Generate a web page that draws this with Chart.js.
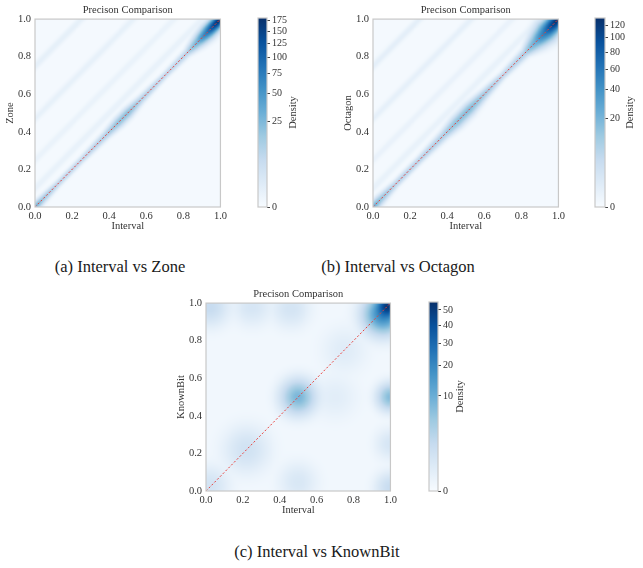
<!DOCTYPE html>
<html>
<head>
<meta charset="utf-8">
<script src="https://cdn.jsdelivr.net/npm/chart.js@4.4.0/dist/chart.umd.min.js"></script>
<style>
  body { margin: 0; background: #fff; }
  #page { position: relative; width: 643px; height: 568px; overflow: hidden; }
  canvas { position: absolute; }
  .caption {
    position: absolute;
    font-family: 'Liberation Serif', 'Times New Roman', serif;
    font-size: 16.5px;
    color: #1a1a1a;
    white-space: nowrap;
    transform: translate(-50%, -50%);
  }
</style>
</head>
<body>
<div id="page">
  <canvas id="zoneChart" width="230" height="235" style="left:0px;top:0px"></canvas>
  <canvas id="zoneBar" width="60" height="215" style="left:250px;top:0px"></canvas>
  <canvas id="octChart" width="230" height="235" style="left:338px;top:0px"></canvas>
  <canvas id="octBar" width="56" height="215" style="left:587px;top:0px"></canvas>
  <canvas id="knownChart" width="229" height="235" style="left:171px;top:284px"></canvas>
  <canvas id="knownBar" width="60" height="215" style="left:421px;top:284px"></canvas>
  <div class="caption" style="left:120px;top:267px">(a) Interval vs Zone</div>
  <div class="caption" style="left:398px;top:267px">(b) Interval vs Octagon</div>
  <div class="caption" style="left:317px;top:552px">(c) Interval vs KnownBit</div>
</div>
<script>
// axis ticks shared by all three panels
const unitTicks = [0, 0.2, 0.4, 0.6, 0.8, 1.0];
const powerGamma = 0.4;

// (a) Interval vs Zone: density along the diagonal, plus faint parallel streaks
const zoneTrackPos     = [0.00, 0.04, 0.12, 0.25, 0.38, 0.45, 0.50, 0.57, 0.70, 0.82, 0.88, 0.93, 0.97, 1.00];
const zoneTrackDensity = [28, 14, 7, 6, 10, 18, 20, 10, 6, 8, 30, 80, 150, 185];
const zoneTrackSpread  = [0.010, 0.010, 0.008, 0.008, 0.010, 0.013, 0.013, 0.010, 0.008, 0.010, 0.016, 0.018, 0.016, 0.014];
const zoneEchoOffset   = [0.10, 0.25, 0.47, 0.75];
const zoneEchoDensity  = [0.25, 0.18, 0.30, 0.40];
const zoneTicks = [0, 25, 50, 75, 100, 125, 150, 175];
const zoneMax = 180;

// (b) Interval vs Octagon
const octTrackPos     = [0.00, 0.04, 0.12, 0.25, 0.38, 0.45, 0.52, 0.60, 0.70, 0.82, 0.88, 0.93, 0.97, 1.00];
const octTrackDensity = [22, 12, 6, 6, 8, 14, 16, 10, 5, 8, 25, 60, 110, 135];
const octTrackSpread  = [0.012, 0.012, 0.009, 0.009, 0.012, 0.016, 0.016, 0.012, 0.009, 0.012, 0.022, 0.026, 0.022, 0.018];
const octEchoOffset   = [0.10, 0.25, 0.47, 0.75];
const octEchoDensity  = [0.18, 0.15, 0.26, 0.35];
const octTicks = [0, 20, 40, 60, 80, 100, 120];
const octMax = 132;

// (c) Interval vs KnownBit: isolated blobs
const knownBlobX       = [0.985, 0.96, 0.50, 1.00, 0.02, 0.25, 0.46, 0.22, 0.02, 0.50, 1.00, 1.00, 0.75, 0.70];
const knownBlobY       = [0.985, 0.94, 0.50, 0.50, 0.98, 0.98, 0.97, 0.22, 0.03, 0.05, 0.02, 0.25, 0.75, 0.50];
const knownBlobSpread  = [0.030, 0.050, 0.045, 0.035, 0.050, 0.050, 0.050, 0.060, 0.050, 0.050, 0.040, 0.040, 0.060, 0.060];
const knownBlobDensity = [40, 20, 8, 7, 1.6, 0.6, 0.7, 0.9, 0.8, 0.5, 1.5, 0.6, 0.25, 0.2];
const knownTicks = [0, 10, 20, 30, 40, 50];
const knownMax = 55.7;

const blues = [[247,251,255],[222,235,247],[198,219,239],[158,202,225],[107,174,214],[66,146,198],[33,113,181],[8,81,156],[8,48,107]];
const serif = "'Liberation Serif', 'Times New Roman', serif";

Chart.defaults.font.family = serif;
Chart.defaults.color = '#333';

function bluesAt(t) {
    t = Math.min(1, Math.max(0, t)) * (blues.length - 1);
    const i = Math.min(blues.length - 2, Math.floor(t));
    const f = t - i;
    return blues[i].map((c, k) => Math.round(c + (blues[i + 1][k] - c) * f));
}

function lerp(xs, ys, t) {
    if (t <= xs[0]) return ys[0];
    for (let i = 1; i < xs.length; i++) {
        if (t <= xs[i]) {
            const f = (t - xs[i - 1]) / (xs[i] - xs[i - 1]);
            return ys[i - 1] + (ys[i] - ys[i - 1]) * f;
        }
    }
    return ys[ys.length - 1];
}

function trackField(pos, dens, spread, echoOffset, echoDens) {
    return (x, y) => {
        const s = (x + y) / 2;
        const d = (y - x) / Math.SQRT2;
        const w = lerp(pos, spread, s);
        let v = 0.004 + lerp(pos, dens, s) * Math.exp(-d * d / (2 * w * w));
        echoOffset.forEach((off, i) => {
            const e = (y - x - off) / Math.SQRT2;
            v += echoDens[i] * Math.exp(-e * e / (2 * 0.009 * 0.009));
        });
        return v;
    };
}

function blobField(bx, by, bs, bd) {
    return (x, y) => {
        let v = 0.008;
        for (let i = 0; i < bx.length; i++) {
            const dx = x - bx[i], dy = y - by[i];
            v += bd[i] * Math.exp(-(dx * dx + dy * dy) / (2 * bs[i] * bs[i]));
        }
        return v;
    };
}

function heatLayer(field, vmax, cells) {
    let img = null;
    return {
        id: 'heatLayer',
        beforeDatasetsDraw(chart) {
            const { ctx, scales: { x, y } } = chart;
            if (!img) {
                img = document.createElement('canvas');
                img.width = img.height = cells;
                const ictx = img.getContext('2d');
                const pix = ictx.createImageData(cells, cells);
                for (let r = 0; r < cells; r++) {
                    const yv = 1 - (r + 0.5) / cells;
                    for (let c = 0; c < cells; c++) {
                        const xv = (c + 0.5) / cells;
                        const rgb = bluesAt(Math.pow(field(xv, yv) / vmax, powerGamma));
                        const k = (r * cells + c) * 4;
                        pix.data[k] = rgb[0];
                        pix.data[k + 1] = rgb[1];
                        pix.data[k + 2] = rgb[2];
                        pix.data[k + 3] = 255;
                    }
                }
                ictx.putImageData(pix, 0, 0);
            }
            const left = x.getPixelForValue(0), right = x.getPixelForValue(1);
            const top = y.getPixelForValue(1), bottom = y.getPixelForValue(0);
            ctx.save();
            ctx.imageSmoothingEnabled = true;
            ctx.drawImage(img, left, top, right - left, bottom - top);
            ctx.restore();
        }
    };
}

const framePlugin = {
    id: 'frame',
    afterDatasetsDraw(chart) {
        const { ctx, chartArea: a } = chart;
        ctx.save();
        ctx.strokeStyle = '#c8c8c8';
        ctx.lineWidth = 1.2;
        ctx.strokeRect(a.left, a.top, a.right - a.left, a.bottom - a.top);
        ctx.restore();
    }
};

function unitAxis(label, horizontal) {
    return {
        type: 'linear',
        min: 0,
        max: 1,
        afterBuildTicks: s => { s.ticks = unitTicks.map(v => ({ value: v })); },
        afterFit: s => { if (horizontal) s.height = 28; else s.width = 35; },
        ticks: {
            callback: v => v.toFixed(1),
            padding: horizontal ? 3 : 4,
            autoSkip: false,
            maxRotation: 0,
            font: { size: 10.5 },
            color: '#333'
        },
        grid: { display: false, drawTicks: false },
        border: { display: false },
        title: {
            display: true,
            text: label,
            font: { size: 10.5 },
            color: '#333',
            padding: horizontal ? { top: 0, bottom: 2 } : { top: 4, bottom: 0 }
        }
    };
}

function makePanel(id, yLabel, field, vmax) {
    new Chart(document.getElementById(id), {
        type: 'scatter',
        data: {
            datasets: [{
                data: [{ x: 0, y: 0 }, { x: 1, y: 1 }],
                showLine: true,
                borderColor: '#e8413c',
                borderWidth: 1,
                borderDash: [2, 2],
                pointRadius: 0
            }]
        },
        options: {
            responsive: false,
            animation: false,
            layout: { padding: { right: 6 } },
            plugins: {
                legend: { display: false },
                tooltip: { enabled: false },
                title: {
                    display: true,
                    fullSize: false,
                    text: 'Precison Comparison',
                    color: '#333',
                    font: { size: 10.5, weight: 'normal' },
                    padding: { top: 3.5, bottom: 3 }
                }
            },
            scales: {
                x: unitAxis('Interval', true),
                y: unitAxis(yLabel, false)
            }
        },
        plugins: [heatLayer(field, vmax, 190), framePlugin]
    });
}

function densityTitle(gap) {
    return {
        id: 'densityTitle',
        afterDraw(chart) {
            const { ctx, chartArea: a } = chart;
            ctx.save();
            ctx.translate(a.right + gap, (a.top + a.bottom) / 2);
            ctx.rotate(-Math.PI / 2);
            ctx.font = '10.5px ' + serif;
            ctx.fillStyle = '#333';
            ctx.textAlign = 'center';
            ctx.textBaseline = 'middle';
            ctx.fillText('Density', 0, 0);
            ctx.restore();
        }
    };
}

function makeColorbar(id, tickValues, vmax, gap, padRight) {
    new Chart(document.getElementById(id), {
        type: 'bar',
        data: {
            labels: ['Density'],
            datasets: [{
                data: [1],
                borderWidth: 0,
                categoryPercentage: 1,
                barPercentage: 1,
                backgroundColor: (c) => {
                    const a = c.chart.chartArea;
                    if (!a) return blues[4];
                    const g = c.chart.ctx.createLinearGradient(0, a.bottom, 0, a.top);
                    blues.forEach((rgb, i) => g.addColorStop(i / (blues.length - 1), `rgb(${rgb.join(',')})`));
                    return g;
                }
            }]
        },
        options: {
            responsive: false,
            animation: false,
            layout: { padding: { top: 18, bottom: 8, left: 8, right: padRight } },
            plugins: { legend: { display: false }, tooltip: { enabled: false } },
            scales: {
                x: { display: false },
                y: {
                    position: 'right',
                    min: 0,
                    max: 1,
                    afterBuildTicks: s => {
                        s.ticks = tickValues.map(v => ({ value: Math.pow(v / vmax, powerGamma) }));
                    },
                    afterFit: s => { s.width = 30; },
                    ticks: {
                        callback: (v, i) => String(tickValues[i]),
                        autoSkip: false,
                        padding: 2,
                        font: { size: 10 },
                        color: '#333'
                    },
                    grid: { drawOnChartArea: false, drawTicks: true, tickLength: 3, color: '#444' },
                    border: { display: false }
                }
            }
        },
        plugins: [framePlugin, densityTitle(gap)]
    });
}

makePanel('zoneChart', 'Zone',
    trackField(zoneTrackPos, zoneTrackDensity, zoneTrackSpread, zoneEchoOffset, zoneEchoDensity), zoneMax);
makePanel('octChart', 'Octagon',
    trackField(octTrackPos, octTrackDensity, octTrackSpread, octEchoOffset, octEchoDensity), octMax);
makePanel('knownChart', 'KnownBit',
    blobField(knownBlobX, knownBlobY, knownBlobSpread, knownBlobDensity), knownMax);

makeColorbar('zoneBar', zoneTicks, zoneMax, 26, 13);
makeColorbar('octBar', octTicks, octMax, 25, 8);
makeColorbar('knownBar', knownTicks, knownMax, 22, 13);
</script>
</body>
</html>
